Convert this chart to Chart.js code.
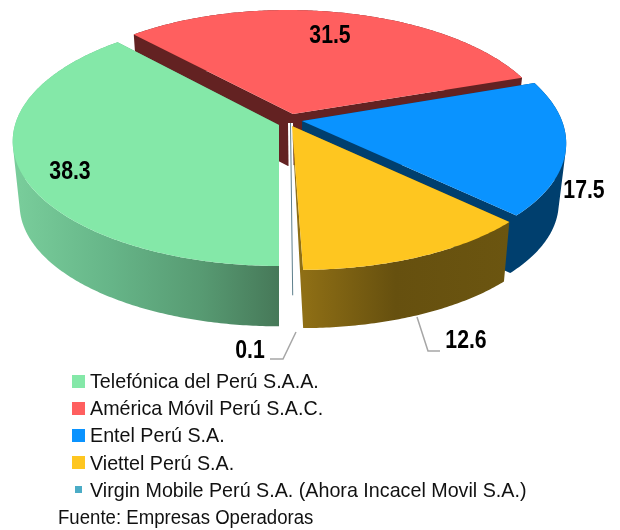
<!DOCTYPE html>
<html lang="es">
<head>
<meta charset="utf-8">
<title>Operadoras</title>
<script src="https://cdn.jsdelivr.net/npm/chart.js@4"></script>
<style>
  body { margin: 0; background: #fff; }
  #wrap { position: relative; width: 620px; height: 530px; overflow: hidden; }
  #pie { position: absolute; left: 0; top: 0; }
  .row, .source {
    position: absolute; white-space: nowrap; color: #111;
    font-family: "Liberation Sans", Arial, sans-serif; line-height: 24px;
    transform-origin: left center;
  }
  .row { font-size: 21px; transform: scaleX(0.938); }
  .source { font-size: 20px; transform: scaleX(0.93); }
  .box { position: absolute; }
</style>
</head>
<body>
<div id="wrap">
  <canvas id="pie" width="620" height="530"></canvas>
</div>
<script>
// Datos
const operators = [
    "Telefónica del Perú S.A.A.",
    "América Móvil Perú S.A.C.",
    "Entel Perú S.A.",
    "Viettel Perú S.A.",
    "Virgin Mobile Perú S.A. (Ahora Incacel Movil S.A.)"
];
const shares = [38.3, 31.5, 17.5, 12.6, 0.1];
const source = "Fuente: Empresas Operadoras";

// Colores
const topColors = ["#84E8A8", "#FF5F5F", "#0A93FF", "#FEC620", "#4BACC6"];
const wallColors = ["#5A9E72", "#632222", "#003F6E", "#6B5510", "#5E7F8C"];

// Forma de cada porción (perspectiva del pastel 3D)
const tilt = 0.131;
const floorScale = 0.974;
const sliceShapes = [
    { ax: 279, ay: 125, rx: 264, ry: 122.5, skew: 0, depth: 64, x0: 280, wall: [0, 60] },
    { ax: 293, ay: 114, rx: 254, ry: 117.6, skew: 0.05, depth: 52, x0: 280, wall: [-5, 52] },
    { ax: 302, ay: 121, rx: 260, ry: 123, skew: 0.1, depth: 60, x0: 280, wall: [0, 60] },
    { ax: 292, ay: 126, rx: 268, ry: 125, skew: 0.064, depth: 62, x0: 303, wall: [0, 0] },
    { ax: 290.5, ay: 123, rx: 264, ry: 122.5, skew: 0.018, depth: 35, x0: 280, wall: [0, 35] }
];
const drawOrder = [1, 2, 0, 4, 3];

// Etiquetas de valor y sus líneas guía
const labelSpots = [[70, 172], [330, 36], [584, 191], [466, 341], [250, 351]];
const leaderLines = [
    [[296, 332], [283, 359], [270, 359]],
    [[417, 317], [428, 351], [440, 351]]
];

function rimPoint(s, angle) {
    const u = Math.cos(angle);
    const v = Math.sin(angle);
    const w = 1 - tilt * v;
    const y = s.ry * v / w;
    const x = s.rx * u / w + s.skew * y;
    return [s.ax + x, s.ay + y];
}

function floorPoint(s, p) {
    return [
        s.x0 + floorScale * (p[0] - s.x0),
        s.ay + s.depth + floorScale * (p[1] - s.ay)
    ];
}

function tracePoly(ctx, points) {
    points.forEach((p, i) => i ? ctx.lineTo(p[0], p[1]) : ctx.moveTo(p[0], p[1]));
    ctx.closePath();
}

function signedArea(points) {
    let area = 0;
    points.forEach((p, i) => {
        const q = points[(i + 1) % points.length];
        area += p[0] * q[1] - q[0] * p[1];
    });
    return area;
}

function traceFacing(ctx, points) {
    tracePoly(ctx, signedArea(points) < 0 ? points.slice().reverse() : points);
}

function wallFill(ctx, index) {
    if (index === 0) {
        const g = ctx.createLinearGradient(20, 0, 280, 0);
        g.addColorStop(0, "#78CC9A");
        g.addColorStop(0.35, "#66B588");
        g.addColorStop(0.7, "#579A72");
        g.addColorStop(1, "#467858");
        return g;
    }
    if (index === 3) {
        const g = ctx.createLinearGradient(303, 0, 509, 0);
        g.addColorStop(0, "#8F6F15");
        g.addColorStop(0.45, "#66500F");
        g.addColorStop(1, "#6B5510");
        return g;
    }
    return wallColors[index];
}

// Dibuja cada arco del gráfico con sus ángulos, proyectado en 3D
const pie3d = {
    id: "pie3d",
    beforeDatasetsDraw(chart) {
        const ctx = chart.ctx;
        const arcs = chart.getDatasetMeta(0).data;

        ctx.save();
        ctx.strokeStyle = "#A6A6A6";
        ctx.lineWidth = 1.5;
        leaderLines.forEach(line => {
            ctx.beginPath();
            line.forEach((p, i) => i ? ctx.lineTo(p[0], p[1]) : ctx.moveTo(p[0], p[1]));
            ctx.stroke();
        });

        drawOrder.forEach(i => {
            const s = sliceShapes[i];
            const arc = arcs[i];
            const rim = [];
            const steps = Math.max(2, Math.ceil((arc.endAngle - arc.startAngle) * 90));
            for (let n = 0; n <= steps; n++) {
                rim.push(rimPoint(s, arc.startAngle + (arc.endAngle - arc.startAngle) * n / steps));
            }
            const apex = [s.ax, s.ay];
            const apexLow = [s.ax + s.wall[0], s.ay + s.wall[1]];
            const first = rim[0];
            const last = rim[rim.length - 1];

            // La porción mínima solo se ve como una línea con halo blanco
            if (i === 4) {
                ctx.strokeStyle = "#fff";
                ctx.lineWidth = 5;
                ctx.beginPath();
                ctx.moveTo(s.ax, s.ay);
                ctx.lineTo(floorPoint(s, last)[0], floorPoint(s, last)[1]);
                ctx.stroke();
                ctx.strokeStyle = wallColors[4];
                ctx.lineWidth = 1;
                ctx.stroke();
                return;
            }

            // paredes: todos los tramos con la misma orientación en un solo trazado, sin costuras
            ctx.beginPath();
            traceFacing(ctx, [apex, first, floorPoint(s, first), apexLow]);
            traceFacing(ctx, [apex, last, floorPoint(s, last), apexLow]);
            for (let n = 0; n < rim.length - 1; n++) {
                traceFacing(ctx, [rim[n], rim[n + 1], floorPoint(s, rim[n + 1]), floorPoint(s, rim[n])]);
            }
            ctx.fillStyle = wallFill(ctx, i);
            ctx.fill();

            ctx.beginPath();
            tracePoly(ctx, [apex].concat(rim));
            ctx.fillStyle = topColors[i];
            ctx.fill();
        });

        ctx.fillStyle = "#000";
        ctx.font = "bold 25px 'Liberation Sans', Arial, sans-serif";
        ctx.textAlign = "center";
        ctx.textBaseline = "middle";
        shares.forEach((value, i) => {
            ctx.save();
            ctx.translate(labelSpots[i][0], labelSpots[i][1]);
            ctx.scale(0.85, 1);
            ctx.fillText(value.toFixed(1), 0, 0);
            ctx.restore();
        });
        ctx.restore();
        return false;
    }
};

new Chart(document.getElementById("pie"), {
    type: "pie",
    data: {
        labels: operators,
        datasets: [{ data: shares, backgroundColor: topColors, borderWidth: 0 }]
    },
    options: {
        responsive: false,
        animation: false,
        rotation: 180,
        plugins: {
            legend: { display: false },
            tooltip: { enabled: false }
        }
    },
    plugins: [pie3d]
});

// Leyenda propia en HTML
const wrap = document.getElementById("wrap");
operators.forEach((name, i) => {
    const y = 381 + i * 27.2;
    const box = document.createElement("div");
    const size = i === 4 ? 7 : 13;
    box.className = "box";
    box.style.cssText = `left:${78.5 - size / 2}px;top:${y - size / 2}px;width:${size}px;height:${size}px;background:${topColors[i]}`;
    wrap.appendChild(box);
    const row = document.createElement("div");
    row.className = "row";
    row.style.cssText = `left:90px;top:${y - 12}px`;
    row.textContent = name;
    wrap.appendChild(row);
});
const note = document.createElement("div");
note.className = "source";
note.style.cssText = "left:58px;top:505px";
note.textContent = source;
wrap.appendChild(note);
</script>
</body>
</html>
